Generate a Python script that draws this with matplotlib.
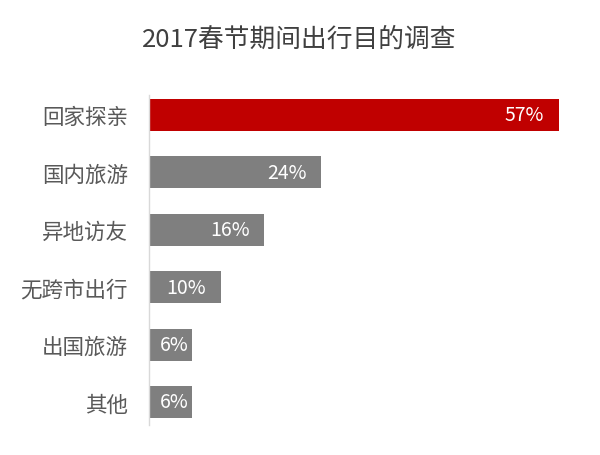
import matplotlib
matplotlib.use("Agg")
import matplotlib.pyplot as plt

plt.rcParams['font.family'] = ['Noto Sans CJK SC', 'DejaVu Sans']

categories = ['回家探亲', '国内旅游', '异地访友', '无跨市出行', '出国旅游', '其他']
values = [57, 24, 16, 10, 6, 6]
labels = ['57%', '24%', '16%', '10%', '6%', '6%']
title = '2017春节期间出行目的调查'

colors = ['#C00000'] + ['#7F7F7F'] * (len(values) - 1)

fig = plt.figure(figsize=(6, 4.56), dpi=100)
ax = fig.add_axes([0.248, 0.0533, 0.719, 0.7553])

ypos = list(range(len(values)))
ax.barh(ypos, values, height=0.557, color=colors)
ax.set_ylim(len(values) - 0.5, -0.5)
ax.set_xlim(0, 60)

ax.set_yticks(ypos)
ax.set_yticklabels(categories, fontsize=15.5, color='#595959', fontweight='light')
ax.tick_params(axis='y', length=0, pad=15)
ax.set_xticks([])

for s in ['top', 'right', 'bottom']:
    ax.spines[s].set_visible(False)
ax.spines['left'].set_color('#D9D9D9')
ax.spines['left'].set_linewidth(1)
ax.spines['left'].set_bounds(-0.35, 5.4)

# labels inside bar ends
for y, v, t in zip(ypos, values, labels):
    off = 2.0 if v > 8 else 0.4
    ax.text(v - off, y, t, ha='right', va='center', color='white',
            fontsize=14, fontweight='light')

fig.text(0.498, 0.912, title, ha='center', va='center', fontsize=18.5,
         color='#404040', fontweight='light')

fig.savefig('out.png', dpi=100)
